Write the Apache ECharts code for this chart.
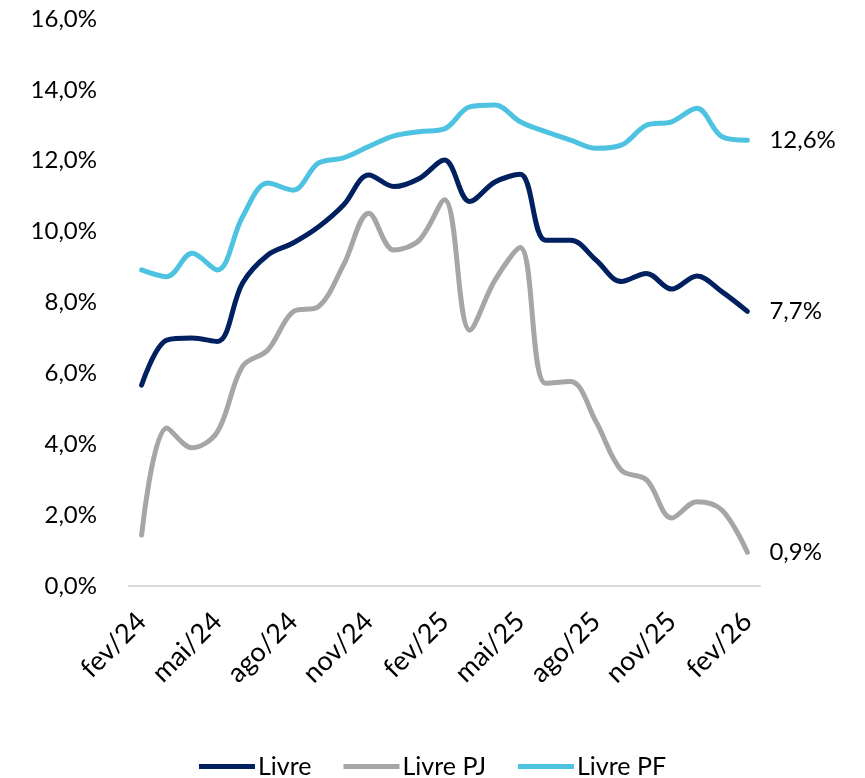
<!DOCTYPE html>
<html lang="pt-BR">
<head>
    <meta charset="UTF-8">
    <title>Crédito livre</title>
    <script src="https://cdn.jsdelivr.net/npm/echarts@6/dist/echarts.min.js"></script>
    <style>
    html, body { margin: 0; padding: 0; background: #fff; }
    #chart { width: 865px; height: 778px; }
    </style>
</head>
<body>
    <div id="chart"></div>
    <script>
        // meses fev/24 .. fev/26
        var meses = ['fev/24','mar/24','abr/24','mai/24','jun/24','jul/24','ago/24','set/24','out/24','nov/24','dez/24',
                     'jan/25','fev/25','mar/25','abr/25','mai/25','jun/25','jul/25','ago/25','set/25','out/25','nov/25','dez/25',
                     'jan/26','fev/26'];
        var livre   = [5.67, 6.94, 7.0, 6.9, 8.55, 9.34, 9.68, 10.13, 10.75, 11.6, 11.27, 11.5, 12.02,
                       10.85, 11.4, 11.62, 9.76, 9.76, 9.2, 8.59, 8.82, 8.38, 8.75, 8.3, 7.75];
        var livrePJ = [1.44, 4.46, 3.9, 4.35, 6.2, 6.66, 7.74, 7.88, 9.06, 10.52, 9.48, 9.76, 10.9,
                       7.22, 8.63, 9.55, 5.72, 5.77, 4.64, 3.27, 3.0, 1.92, 2.38, 2.14, 0.95];
        var livrePF = [8.92, 8.73, 9.39, 8.92, 10.42, 11.37, 11.17, 11.93, 12.08, 12.4, 12.7, 12.82, 12.9,
                       13.52, 13.57, 13.1, 12.82, 12.58, 12.35, 12.44, 13.0, 13.1, 13.48, 12.68, 12.58];
        var rotulosFinais = ['7,7%', '0,9%', '12,6%'];

        var fonte = 'Lato';
        function pct(v) { return v.toFixed(1).replace('.', ',') + '%'; }

        function serie(nome, dados, cor, rotulo) {
            return {
                name: nome,
                type: 'line',
                data: dados,
                smooth: 0.35,
                symbol: 'none',
                lineStyle: { width: 5, color: cor, cap: 'round' },
                itemStyle: { color: cor },
                endLabel: {
                    show: true,
                    distance: 22,
                    formatter: function () { return rotulo; },
                    fontFamily: fonte,
                    fontSize: 24,
                    color: '#000'
                }
            };
        }

        var myChart = echarts.init(document.getElementById('chart'));
        var option = {
            animation: false,
            grid: { left: 129, top: 19, width: 631, height: 567 },
            legend: {
                top: 749,
                left: 'center',
                itemWidth: 56,
                itemHeight: 5,
                itemGap: 32,
                icon: 'rect',
                textStyle: { fontFamily: fonte, fontSize: 25, color: '#000', padding: [0, 0, 0, -2] },
                data: ['Livre', 'Livre PJ', 'Livre PF']
            },
            xAxis: {
                type: 'category',
                data: meses,
                boundaryGap: true,
                axisLine: { lineStyle: { color: '#d9d9d9', width: 2 } },
                axisTick: { show: false },
                axisLabel: {
                    interval: 2,
                    rotate: 45,
                    margin: 31,
                    fontFamily: fonte,
                    fontSize: 27,
                    color: '#000'
                }
            },
            yAxis: {
                type: 'value',
                min: 0,
                max: 16,
                interval: 2,
                splitLine: { show: false },
                axisLine: { show: false },
                axisTick: { show: false },
                axisLabel: {
                    margin: 32,
                    fontFamily: fonte,
                    fontSize: 24,
                    color: '#000',
                    formatter: pct
                }
            },
            series: [
                serie('Livre', livre, '#002060', rotulosFinais[0]),
                serie('Livre PJ', livrePJ, '#a6a6a6', rotulosFinais[1]),
                serie('Livre PF', livrePF, '#4ec3e1', rotulosFinais[2])
            ]
        };
        myChart.setOption(option);
    </script>
</body>
</html>
